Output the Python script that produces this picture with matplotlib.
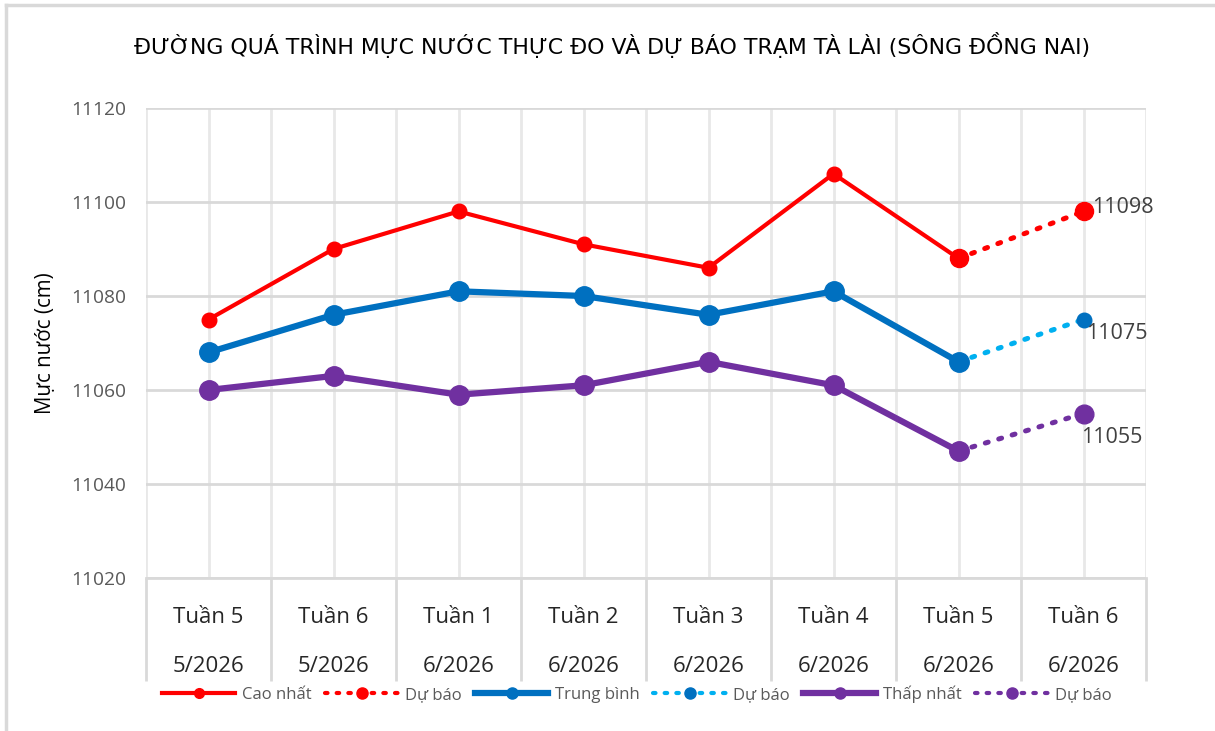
import matplotlib
matplotlib.use("Agg")
import matplotlib.pyplot as plt
from matplotlib.lines import Line2D

# ---- data ----
weeks = ["Tuần 5", "Tuần 6", "Tuần 1", "Tuần 2", "Tuần 3", "Tuần 4", "Tuần 5", "Tuần 6"]
months = ["5/2026", "5/2026", "6/2026", "6/2026", "6/2026", "6/2026", "6/2026", "6/2026"]
cao_nhat = [11075, 11090, 11098, 11091, 11086, 11106, 11088]
trung_binh = [11068, 11076, 11081, 11080, 11076, 11081, 11066]
thap_nhat = [11060, 11063, 11059, 11061, 11066, 11061, 11047]
du_bao_cao = [11088, 11098]
du_bao_tb = [11066, 11075]
du_bao_thap = [11047, 11055]
yticks = [11020, 11040, 11060, 11080, 11100, 11120]

FONT = ["Open Sans", "DejaVu Sans"]
plt.rcParams["font.family"] = FONT

W, H = 1215, 731
fig = plt.figure(figsize=(W / 100, H / 100), dpi=100)
L, R, T, B = 146, 1146, 108, 578
ax = fig.add_axes([L / W, 1 - B / H, (R - L) / W, (B - T) / H])

x_act = list(range(len(cao_nhat)))
x_fc = list(range(len(cao_nhat) - 1, len(cao_nhat) + 1))

RED, BLUE, LBLUE, PURPLE = "#FF0000", "#0070C0", "#00B0F0", "#7030A0"
dot = (0, (0.6, 2.2))

# forecast (dotted) first so actual markers sit on top
ax.plot(x_fc, du_bao_cao, color=RED, lw=3.6, ls=dot, dash_capstyle="round",
        marker="o", ms=13, markevery=[1], zorder=3)
ax.plot(x_fc, du_bao_tb, color=LBLUE, lw=3.6, ls=dot, dash_capstyle="round",
        marker="o", ms=10.5, mfc=BLUE, mec=BLUE, markevery=[1], zorder=3)
ax.plot(x_fc, du_bao_thap, color=PURPLE, lw=3.6, ls=dot, dash_capstyle="round",
        marker="o", ms=13.5, markevery=[1], zorder=3)

ax.plot(x_act, cao_nhat, color=RED, lw=3, marker="o", ms=10.5, zorder=4)
ax.plot(x_act[-1:], cao_nhat[-1:], color=RED, marker="o", ms=13, ls="none", zorder=4)
ax.plot(x_act, trung_binh, color=BLUE, lw=4.5, marker="o", ms=14, zorder=4)
ax.plot(x_act, thap_nhat, color=PURPLE, lw=4.5, marker="o", ms=14, zorder=4)

# data labels
lab_kw = dict(color="#404040", fontsize=15.5, textcoords="offset points")
ax.annotate(str(du_bao_cao[-1]), (x_fc[-1], du_bao_cao[-1]), xytext=(6, 3), ha="left", va="center", **lab_kw)
ax.annotate(str(du_bao_tb[-1]), (x_fc[-1], du_bao_tb[-1]), xytext=(2, -10), ha="left", va="center", **lab_kw)
ax.annotate(str(du_bao_thap[-1]), (x_fc[-1], du_bao_thap[-1]), xytext=(-2, -17), ha="left", va="center", **lab_kw)

# axes
n = len(weeks)
ax.set_xlim(-0.5, n - 0.5)
ax.set_ylim(yticks[0], yticks[-1])
ax.set_yticks(yticks)
ax.set_yticklabels([str(v) for v in yticks], color="#595959", fontsize=13.8)
ax.tick_params(axis="y", length=0, pad=14)
ax.set_xticks(range(n))
ax.set_xticklabels([f"{w}\n\n{m}" for w, m in zip(weeks, months)], fontsize=16,
                   color="#262626", linespacing=1.22)
ax.set_xticks([i - 0.5 for i in range(n + 1)], minor=True)
ax.tick_params(axis="x", which="major", length=0, pad=21)
ax.tick_params(axis="x", which="minor", length=74, width=2, color="#D9D9D9", direction="out")
ax.grid(True, which="both", axis="x", color="#E8E8E8", lw=2)
ax.grid(True, which="major", axis="y", color="#D9D9D9", lw=2)
for s in ["top", "right", "left"]:
    ax.spines[s].set_visible(False)
ax.spines["bottom"].set_color("#D9D9D9")
ax.spines["bottom"].set_linewidth(2)
ax.set_axisbelow(True)

ax.set_ylabel("Mực nước (cm)", fontsize=14.8, color="black", labelpad=11)

fig.text(0.5 + 5 / W, 1 - 45 / H, "ĐƯỜNG QUÁ TRÌNH MỰC NƯỚC THỰC ĐO VÀ DỰ BÁO TRẠM TÀ LÀI (SÔNG ĐỒNG NAI)",
         ha="center", va="center", fontsize=15.8, family=["DejaVu Sans"])

# outer border (top & left)
fig.add_artist(Line2D([6 / W, 6 / W], [0, 1 - 5 / H], transform=fig.transFigure, color="#D9D9D9", lw=2.5))
fig.add_artist(Line2D([6 / W, 1], [1 - 5 / H, 1 - 5 / H], transform=fig.transFigure, color="#D9D9D9", lw=2.5))

# legend
handles = [
    Line2D([], [], color=RED, lw=3, marker="o", ms=7),
    Line2D([], [], color=RED, lw=3, ls=dot, dash_capstyle="round", marker="o", ms=8),
    Line2D([], [], color=BLUE, lw=4.5, marker="o", ms=8),
    Line2D([], [], color=LBLUE, lw=3, ls=dot, dash_capstyle="round", marker="o", ms=8, mfc=BLUE, mec=BLUE),
    Line2D([], [], color=PURPLE, lw=4.5, marker="o", ms=8),
    Line2D([], [], color=PURPLE, lw=3, ls=dot, dash_capstyle="round", marker="o", ms=8),
]
labels = ["Cao nhất", "Dự báo", "Trung bình", "Dự báo", "Thấp nhất", "Dự báo"]
fig.legend(handles, labels, loc="center", bbox_to_anchor=(637 / W, 1 - 694 / H), ncol=6,
           frameon=False, fontsize=12, labelcolor="#595959", handlelength=4.4,
           handletextpad=0.4, columnspacing=0.8, borderaxespad=0)

fig.savefig("out.png", dpi=100, facecolor="white")
